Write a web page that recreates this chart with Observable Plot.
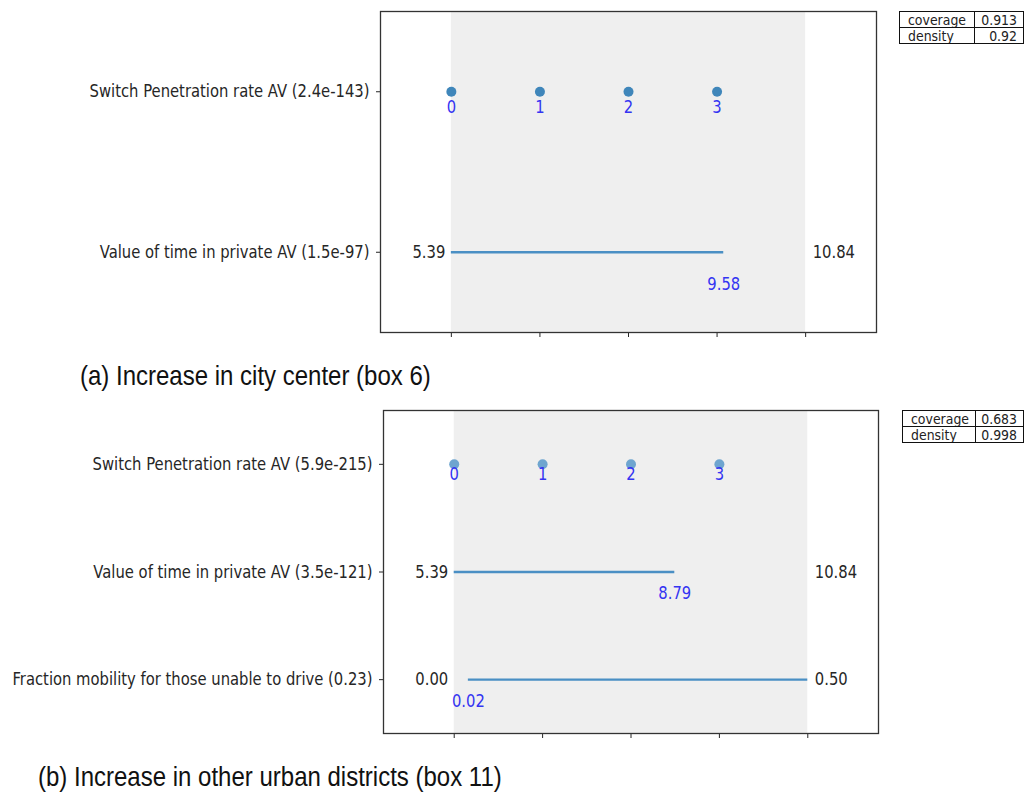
<!DOCTYPE html>
<html>
<head>
<meta charset="utf-8">
<script src="https://cdn.jsdelivr.net/npm/d3@7"></script>
<script src="https://cdn.jsdelivr.net/npm/@observablehq/plot@0.6"></script>
<style>
  html, body { margin: 0; padding: 0; background: #fff; }
  #root { position: relative; width: 1024px; height: 792px; overflow: hidden; font-family: "DejaVu Sans", sans-serif; }
  .panel { position: absolute; left: 0; }
  .caption { position: absolute; font-family: "Liberation Sans", Arial, sans-serif; font-size: 24px; color: #111; white-space: nowrap; line-height: 24px; transform: scaleY(1.18); transform-origin: 0 50%; }
  table.stats { position: absolute; border-collapse: collapse; font-family: "DejaVu Sans", sans-serif; font-size: 12.5px; color: #222; table-layout: fixed; }
  table.stats td { border: 1.3px solid #111; padding: 0 6px 0 8px; height: 15px; line-height: 15px; overflow: hidden; white-space: nowrap; }
  table.stats td.v { text-align: right; padding: 0 6px 0 4px; }
  table.stats span { display: inline-block; transform: scaleY(1.15); }
</style>
</head>
<body>
<div id="root"></div>
<script>
// ---------------- data ----------------
// panel (a): Increase in city center (box 6)
const namesA = ["Switch Penetration rate AV", "Value of time in private AV"];
const pvalsA = ["2.4e-143", "1.5e-97"];
const catsA = [0, 1, 2, 3];                 // categories of the switch (all in box)
const fullRangeA = [5.39, 10.84];           // value of time: full range
const boxRangeA = [5.39, 9.58];             // value of time: box limits
const coverageA = "0.913";
const densityA = "0.92";
const captionA = "(a) Increase in city center (box 6)";

// panel (b): Increase in other urban districts (box 11)
const namesB = ["Switch Penetration rate AV", "Value of time in private AV", "Fraction mobility for those unable to drive"];
const pvalsB = ["5.9e-215", "3.5e-121", "0.23"];
const catsB = [0, 1, 2, 3];
const fullRangesB = [[5.39, 10.84], [0.00, 0.50]];
const boxRangesB = [[5.39, 8.79], [0.02, 0.50]];
const coverageB = "0.683";
const densityB = "0.998";
const captionB = "(b) Increase in other urban districts (box 11)";

const xTicks = [0, 0.25, 0.5, 0.75, 1];

// ---------------- drawing ----------------
const K = 1.18; // vertical text stretch of the original raster

function panel({names, pvals, cats, ranges, dotColor, catDy}) {
  const labels = names.map((n, i) => `${n} (${pvals[i]})`);
  const n = labels.length;
  const norm = (v, full) => (v - full[0]) / (full[1] - full[0]);
  const dots = cats.map((c, j) => ({c, x: j / cats.length, y: 0}));
  const lines = ranges.map((r, k) => ({
    y: k + 1,
    x1: norm(r.box[0], r.full), x2: norm(r.box[1], r.full),
    lo: r.full[0], hi: r.full[1], blo: r.box[0], bhi: r.box[1]
  }));
  const blue = [];
  for (const l of lines) {
    if (l.blo !== l.lo) blue.push({x: l.x1, y: l.y + 0.2, t: l.blo.toFixed(2)});
    if (l.bhi !== l.hi) blue.push({x: l.x2, y: l.y + 0.2, t: l.bhi.toFixed(2)});
  }
  return {labels, n, dots, lines, blue, dotColor, catDy};
}

function stretchText(svg, k) {
  svg.querySelectorAll("text").forEach(t => {
    const tr = t.getAttribute("transform");
    if (tr) t.setAttribute("transform", tr + ` scale(1,${k})`);
    else {
      const x = +t.getAttribute("x") || 0, y = +t.getAttribute("y") || 0;
      t.setAttribute("transform", `translate(${x},${y}) scale(1,${k}) translate(${-x},${-y})`);
    }
  });
}

function draw(p, opts) {
  const svg = Plot.plot({
    width: 1024,
    height: opts.height,
    marginTop: opts.marginTop,
    marginBottom: opts.marginBottom,
    marginLeft: opts.marginLeft,
    marginRight: opts.marginRight,
    style: {fontFamily: "DejaVu Sans, sans-serif", fontSize: "14.8px", color: "#262626", background: "white"},
    x: {domain: [-0.2, 1.2], ticks: xTicks, tickSize: 5, tickFormat: () => "", label: null},
    y: {domain: [-0.5, p.n - 0.5], reverse: true, ticks: d3.range(p.n), tickSize: 4, tickPadding: 7,
        tickFormat: i => p.labels[i], label: null},
    marks: [
      Plot.rect([{lo: 0, hi: 1}], {x1: "lo", x2: "hi", fill: "#efefef"}),
      Plot.ruleY(p.lines, {y: "y", x1: "x1", x2: "x2", stroke: "#4a8fc4", strokeWidth: 2.3}),
      Plot.dot(p.dots, {x: "x", y: "y", r: 5, fill: p.dotColor, stroke: "none"}),
      Plot.text(p.dots, {x: "x", y: d => d.y + p.catDy, text: d => String(d.c), fill: "#3434f2", fontSize: 14.8}),
      Plot.text(p.lines, {x: 0, y: "y", text: d => d.lo.toFixed(2), textAnchor: "end", dx: -6, fill: "#262626", fontSize: 14.8}),
      Plot.text(p.lines, {x: 1, y: "y", text: d => d.hi.toFixed(2), textAnchor: "start", dx: 7, fill: "#262626", fontSize: 14.8}),
      Plot.text(p.blue, {x: "x", y: "y", text: "t", fill: "#3434f2", fontSize: 14.8}),
      Plot.frame({stroke: "#333", strokeWidth: 1.3})
    ]
  });
  stretchText(svg, K);
  return svg;
}

const root = document.getElementById("root");

const pA = panel({
  names: namesA, pvals: pvalsA, cats: catsA,
  ranges: [{full: fullRangeA, box: boxRangeA}],
  dotColor: "#3f86ba", catDy: 0.1
});
const svgA = draw(pA, {height: 350, marginTop: 11, marginBottom: 18, marginLeft: 380, marginRight: 148});
svgA.classList.add("panel");
svgA.style.top = "0px";
root.appendChild(svgA);

const pB = panel({
  names: namesB, pvals: pvalsB, cats: catsB,
  ranges: fullRangesB.map((f, i) => ({full: f, box: boxRangesB[i]})),
  dotColor: "#6ea5cf", catDy: 0.09
});
const svgB = draw(pB, {height: 350, marginTop: 10, marginBottom: 17, marginLeft: 383, marginRight: 146});
svgB.classList.add("panel");
svgB.style.top = "400px";
root.appendChild(svgB);

function caption(text, left, top) {
  const d = document.createElement("div");
  d.className = "caption";
  d.textContent = text;
  d.style.left = left + "px";
  d.style.top = top + "px";
  root.appendChild(d);
}
caption(captionA, 80, 364);
caption(captionB, 38, 765);

function stats(cov, den, left, top, w1, w2) {
  const t = document.createElement("table");
  t.className = "stats";
  t.style.left = left + "px";
  t.style.top = top + "px";
  t.innerHTML = `<colgroup><col style="width:${w1}px"><col style="width:${w2}px"></colgroup>` +
                `<tr><td><span>coverage</span></td><td class="v"><span>${cov}</span></td></tr>` +
                `<tr><td><span>density</span></td><td class="v"><span>${den}</span></td></tr>`;
  root.appendChild(t);
}
stats(coverageA, densityA, 899, 11, 76, 50);
stats(coverageB, densityB, 902, 410, 75, 50);
</script>
</body>
</html>
